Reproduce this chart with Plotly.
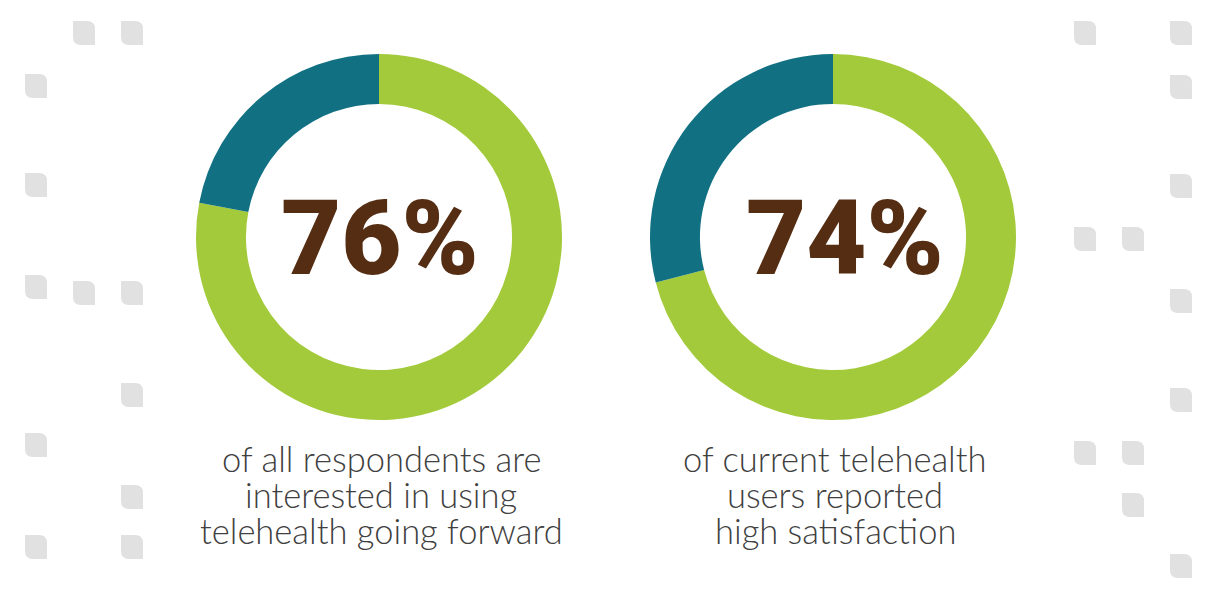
import plotly.graph_objects as go

W, H = 1224, 610
segment_labels = ["Green", "Teal"]
left_values = [78, 22]
right_values = [71, 29]
colors = ["#A2CA3A", "#117183"]
left_pct = "76%"
right_pct = "74%"
left_caption = ["of all respondents are", "interested in using", "telehealth going forward"]
right_caption = ["of current telehealth", "users reported", "high satisfaction"]
square_x = [84, 132, 36, 36, 36, 84, 132, 132, 36, 132, 36, 132,
            1085, 1181, 1181, 1181, 1085, 1133, 1181, 1181, 1085, 1133, 1133, 1181]
square_y = [33, 33, 86, 185, 287, 293, 293, 395, 445, 497, 547, 547,
            33, 33, 87, 186, 239, 239, 301, 400, 453, 453, 505, 566]


def leaf(cx, cy, w=22, h=24, r=8):
    l, t, rr, b = cx - w/2, cy - h/2, cx + w/2, cy + h/2
    return (f"M{l},{t} L{rr-r},{t} Q{rr},{t} {rr},{t+r} L{rr},{b} L{l+r},{b} "
            f"Q{l},{b} {l},{b-r} Z")


def domain(cx, cy, r):
    return dict(x=[(cx-r)/W, (cx+r)/W], y=[1-(cy+r)/H, 1-(cy-r)/H])


fig = go.Figure()
for vals, cx in ((left_values, 379), (right_values, 833)):
    fig.add_trace(go.Pie(labels=segment_labels, values=vals, hole=0.727, sort=False,
                         direction="clockwise", rotation=0, textinfo="none",
                         hoverinfo="skip", marker=dict(colors=colors, line=dict(width=0)),
                         domain=domain(cx, 237, 183), showlegend=False))

shapes = [dict(type="path", path=leaf(x, y), xref="x", yref="y", fillcolor="#E1E1E1",
               line=dict(width=0), layer="below") for x, y in zip(square_x, square_y)]

ann = []
for txt, cx in ((left_pct, 380), (right_pct, 845)):
    ann.append(dict(x=cx, y=238, xref="x", yref="y", text=txt, showarrow=False,
                    font=dict(family="Roboto", size=104, color="#552D12", weight=900)))
for lines, cx in ((left_caption, 381), (right_caption, 835)):
    for line, y in zip(lines, (458, 494, 530)):
        ann.append(dict(x=cx, y=y, xref="x", yref="y", text=line, showarrow=False,
                        font=dict(family="Lato Light, Lato", size=34.5, color="#404040", weight=300)))

fig.update_layout(width=W, height=H, margin=dict(l=0, r=0, t=0, b=0), autosize=False,
                  paper_bgcolor="white", plot_bgcolor="rgba(0,0,0,0)",
                  shapes=shapes, annotations=ann,
                  xaxis=dict(range=[0, W], visible=False, fixedrange=True, domain=[0, 1]),
                  yaxis=dict(range=[H, 0], visible=False, fixedrange=True, domain=[0, 1]))
fig.write_html("out.html", config=dict(displayModeBar=False),
               post_script="document.body.style.margin='0';")
